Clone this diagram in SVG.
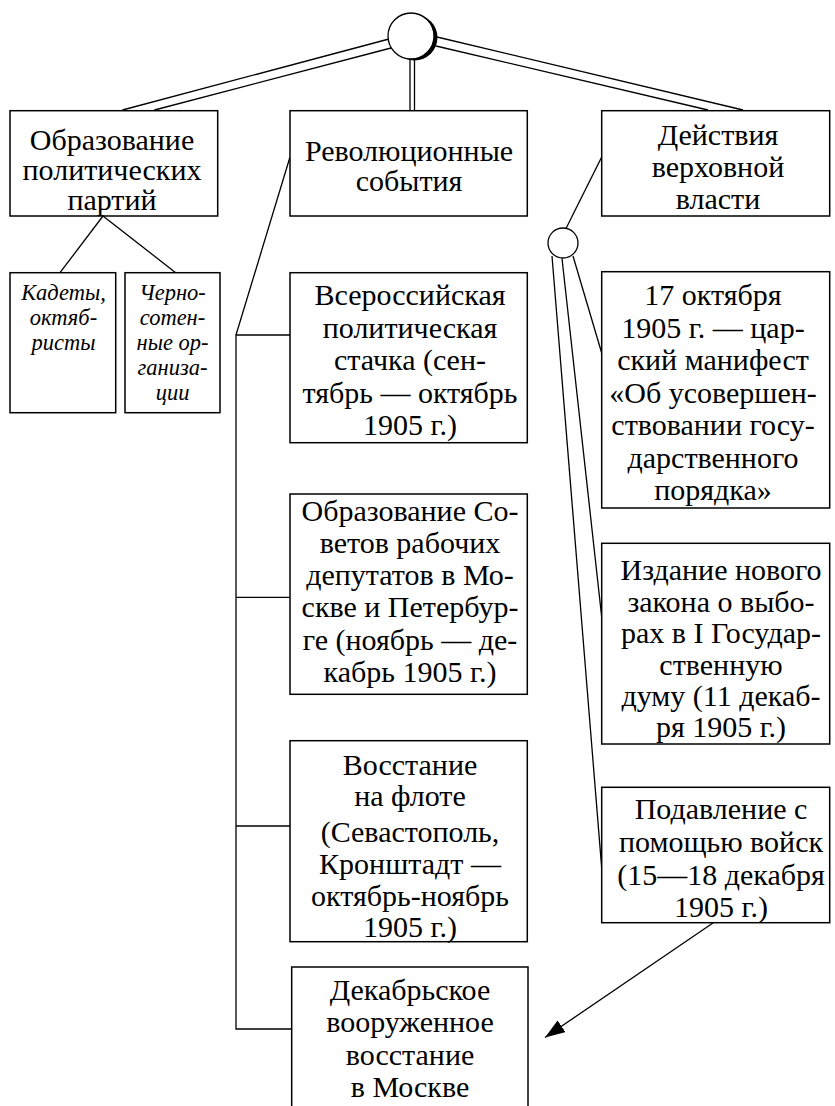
<svg xmlns="http://www.w3.org/2000/svg" width="835" height="1106" viewBox="0 0 835 1106">
<style>
.box{fill:#fff;stroke:#000;stroke-width:1.5}
.ln{fill:none;stroke:#000;stroke-width:1.3}
.t{font-family:"Liberation Serif","Times New Roman",serif;font-size:30px;fill:#000;text-anchor:middle}
.ti{font-family:"Liberation Serif","Times New Roman",serif;font-size:22.5px;font-style:italic;fill:#000;text-anchor:middle}
</style>
<defs>
<marker id="ah" markerWidth="22" markerHeight="14" refX="20" refY="7" orient="auto" markerUnits="userSpaceOnUse">
<path d="M0,0 L20,7 L0,14 Z" fill="#000"/>
</marker>
</defs>
<rect width="835" height="1106" fill="#fff"/>
<g id="connectors">
<line class="ln" x1="389" y1="39" x2="122.5" y2="110"/>
<line class="ln" x1="391" y1="48" x2="154.5" y2="110"/>
<line class="ln" x1="437" y1="37" x2="743" y2="110"/>
<line class="ln" x1="436" y1="46" x2="708" y2="110"/>
<line class="ln" x1="410" y1="58" x2="410" y2="110"/>
<line class="ln" x1="414.5" y1="58" x2="414.5" y2="110"/>
<line class="ln" x1="103" y1="216" x2="60" y2="272.7"/>
<line class="ln" x1="103" y1="216" x2="175.7" y2="272.7"/>
<line class="ln" x1="290" y1="157" x2="236" y2="335"/>
<polyline class="ln" points="290,335 236,335 236,1029 291.7,1029"/>
<line class="ln" x1="236" y1="597.3" x2="290" y2="597.3"/>
<line class="ln" x1="236" y1="826" x2="290" y2="826"/>
<line class="ln" x1="601.7" y1="157" x2="566" y2="228.5"/>
<line class="ln" x1="552" y1="256" x2="601.7" y2="868"/>
<line class="ln" x1="562" y1="258.5" x2="601.7" y2="617"/>
<line class="ln" x1="573" y1="256" x2="601.7" y2="353"/>
<line class="ln" x1="713.3" y1="922.7" x2="545" y2="1037.5" marker-end="url(#ah)"/>
</g>
<g id="hub">
<circle cx="414.5" cy="37.5" r="23" fill="#000"/>
<circle cx="411" cy="36" r="23" fill="#fff" stroke="#000" stroke-width="1.3"/>
</g>
<g id="hub2">
<circle cx="563" cy="243" r="15" fill="#fff" stroke="#000" stroke-width="1.3"/>
</g>
<g id="n1">
<rect class="box" x="10" y="110.7" width="207.7" height="105.3"/>
<text class="t" x="112" y="150">Образование</text>
<text class="t" x="112" y="180">политических</text>
<text class="t" x="112" y="210">партий</text>
</g>
<g id="n2">
<rect class="box" x="290" y="110.7" width="237.3" height="105.3"/>
<text class="t" x="409" y="161">Революционные</text>
<text class="t" x="409" y="191">события</text>
</g>
<g id="n3">
<rect class="box" x="601.7" y="110.7" width="228" height="105.3"/>
<text class="t" x="718" y="144.5">Действия</text>
<text class="t" x="718" y="176.5">верховной</text>
<text class="t" x="718" y="208.5">власти</text>
</g>
<g id="n4">
<rect class="box" x="10" y="272.7" width="105.7" height="140"/>
<text class="ti" x="63.5" y="299.5">Кадеты,</text>
<text class="ti" x="63.5" y="325">октяб-</text>
<text class="ti" x="63.5" y="350">ристы</text>
</g>
<g id="n5">
<rect class="box" x="125" y="272.7" width="95" height="140"/>
<text class="ti" x="172.5" y="299.5">Черно-</text>
<text class="ti" x="172.5" y="325">сотен-</text>
<text class="ti" x="172.5" y="350">ные ор-</text>
<text class="ti" x="172.5" y="375">ганиза-</text>
<text class="ti" x="172.5" y="400">ции</text>
</g>
<g id="n6">
<rect class="box" x="290" y="272.7" width="237.3" height="170"/>
<text class="t" x="410" y="305">Всероссийская</text>
<text class="t" x="410" y="337.5">политическая</text>
<text class="t" x="410" y="370">стачка (сен-</text>
<text class="t" x="410" y="402.5">тябрь — октябрь</text>
<text class="t" x="410" y="435">1905 г.)</text>
</g>
<g id="n7">
<rect class="box" x="290" y="494" width="237.3" height="200.3"/>
<text class="t" x="410" y="520.5">Образование Со-</text>
<text class="t" x="410" y="552.5">ветов рабочих</text>
<text class="t" x="410" y="584.5">депутатов в Мо-</text>
<text class="t" x="410" y="617">скве и Петербур-</text>
<text class="t" x="410" y="649.5">ге (ноябрь — де-</text>
<text class="t" x="410" y="682">кабрь 1905 г.)</text>
</g>
<g id="n8">
<rect class="box" x="290" y="740.7" width="237.3" height="201"/>
<text class="t" x="410" y="774.5">Восстание</text>
<text class="t" x="410" y="806">на флоте</text>
<text class="t" x="410" y="842">(Севастополь,</text>
<text class="t" x="410" y="874">Кронштадт —</text>
<text class="t" x="410" y="905.5">октябрь-ноябрь</text>
<text class="t" x="410" y="936.5">1905 г.)</text>
</g>
<g id="n9">
<rect class="box" x="291.7" y="967" width="236.3" height="160"/>
<text class="t" x="410" y="1000">Декабрьское</text>
<text class="t" x="410" y="1032">вооруженное</text>
<text class="t" x="410" y="1065">восстание</text>
<text class="t" x="410" y="1097">в Москве</text>
</g>
<g id="n10">
<rect class="box" x="601.7" y="271.7" width="228" height="236.3"/>
<text class="t" x="713" y="305">17 октября</text>
<text class="t" x="713" y="338">1905 г. — цар-</text>
<text class="t" x="713" y="370">ский манифест</text>
<text class="t" x="713" y="403">«Об усовершен-</text>
<text class="t" x="713" y="435">ствовании госу-</text>
<text class="t" x="713" y="468">дарственного</text>
<text class="t" x="713" y="500">порядка»</text>
</g>
<g id="n11">
<rect class="box" x="601.7" y="543.3" width="228" height="200.7"/>
<text class="t" x="721" y="580">Издание нового</text>
<text class="t" x="721" y="611.5">закона о выбо-</text>
<text class="t" x="721" y="643">рах в I Государ-</text>
<text class="t" x="721" y="674.5">ственную</text>
<text class="t" x="721" y="706">думу (11 декаб-</text>
<text class="t" x="721" y="737">ря 1905 г.)</text>
</g>
<g id="n12">
<rect class="box" x="601.7" y="787.3" width="228" height="135.4"/>
<text class="t" x="721" y="818.5">Подавление с</text>
<text class="t" x="721" y="851.5">помощью войск</text>
<text class="t" x="721" y="884.5">(15—18 декабря</text>
<text class="t" x="721" y="916.5">1905 г.)</text>
</g>
</svg>
